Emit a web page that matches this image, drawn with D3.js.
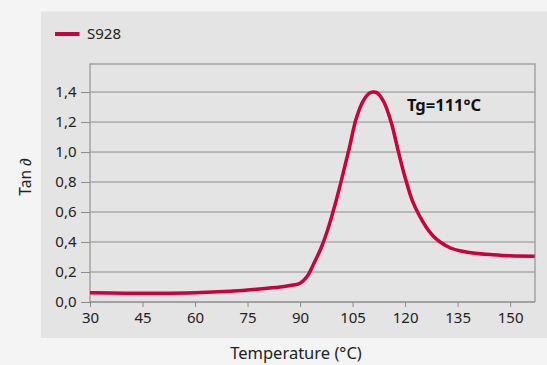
<!DOCTYPE html>
<html>
<head>
<meta charset="utf-8">
<script src="https://cdn.jsdelivr.net/npm/d3@7"></script>
<style>
  body { margin: 0; background: #f3f4f3; }
  svg { display: block; font-family: "Noto Sans", sans-serif; }
</style>
</head>
<body>
<svg id="chart" width="547" height="365"></svg>
<script>
// curve
const temps = [30, 40, 50, 60, 70, 75, 80, 85, 88, 90, 92, 94, 96, 98, 100, 102, 104, 106, 108, 110, 111, 112, 114, 116, 118, 120, 122, 124, 126, 128, 130, 133, 136, 140, 145, 150, 157];
const tanD = [0.062, 0.058, 0.058, 0.062, 0.072, 0.080, 0.090, 0.102, 0.113, 0.125, 0.17, 0.26, 0.36, 0.49, 0.65, 0.83, 1.02, 1.22, 1.34, 1.395, 1.40, 1.395, 1.33, 1.20, 1.01, 0.83, 0.68, 0.58, 0.50, 0.44, 0.40, 0.36, 0.34, 0.325, 0.315, 0.308, 0.305];
const xTicks = [30, 45, 60, 75, 90, 105, 120, 135, 150];
const yTicks = [0, 0.2, 0.4, 0.6, 0.8, 1.0, 1.2, 1.4];
const seriesName = "S928";
const annotation = "Tg=111°C";

const svg = d3.select("#chart");
const red = "#c8003c";
const grid = "#8c8c8c";
const plot = { left: 90, right: 535, top: 64, bottom: 302 };

// grey panel
svg.append("rect")
  .attr("x", 41).attr("y", 11.5)
  .attr("width", 506).attr("height", 326.5)
  .attr("fill", "#e3e4e3");

const x = d3.scaleLinear().domain([30, 157.1]).range([plot.left, plot.right]);
const y = d3.scaleLinear().domain([0, 1.587]).range([plot.bottom, plot.top]);

// horizontal grid
svg.append("g")
  .selectAll("line")
  .data(yTicks.slice(1))
  .enter()
  .append("line")
  .attr("x1", plot.left).attr("x2", plot.right)
  .attr("y1", d => y(d)).attr("y2", d => y(d))
  .attr("stroke", grid)
  .attr("stroke-width", 1);

// frame
svg.append("path")
  .attr("d", `M${plot.left},${plot.bottom}V${plot.top}H${plot.right}V${plot.bottom}`)
  .attr("fill", "none")
  .attr("stroke", "#a2a2a2")
  .attr("stroke-width", 1.5);

const yAxis = svg.append("g")
  .attr("transform", `translate(${plot.left},0)`)
  .call(d3.axisLeft(y).tickValues(yTicks).tickSizeInner(9).tickSizeOuter(0)
    .tickFormat(d => d3.format(".1f")(d).replace(".", ",")));
yAxis.select(".domain").remove();
yAxis.selectAll("line").attr("stroke", grid);
yAxis.selectAll("text")
  .attr("font-size", 15)
  .attr("fill", "#222")
  .attr("font-family", "Noto Sans")
  .attr("dx", "-0.1em");

const xAxis = svg.append("g")
  .attr("transform", `translate(0,${plot.bottom})`)
  .call(d3.axisBottom(x).tickValues(xTicks).tickSizeInner(5).tickSizeOuter(0));
xAxis.select(".domain")
  .attr("d", `M${plot.left},0H${plot.right}`)
  .attr("stroke", grid)
  .attr("stroke-width", 1.5);
xAxis.selectAll("line").attr("stroke", grid);
xAxis.selectAll("text")
  .attr("font-size", 15)
  .attr("fill", "#222")
  .attr("font-family", "Noto Sans")
  .attr("dy", "0.85em");

// the curve
const line = d3.line()
  .x((d, i) => x(temps[i]))
  .y(d => y(d))
  .curve(d3.curveCatmullRom.alpha(0.5));

svg.append("path")
  .datum(tanD)
  .attr("d", line)
  .attr("fill", "none")
  .attr("stroke", red)
  .attr("stroke-width", 3.5)
  .attr("stroke-linejoin", "round");

// legend
svg.append("line")
  .attr("x1", 55).attr("x2", 79.5)
  .attr("y1", 34).attr("y2", 34)
  .attr("stroke", red)
  .attr("stroke-width", 4);
svg.append("text")
  .attr("x", 87).attr("y", 38.5)
  .attr("font-size", 15)
  .attr("fill", "#222")
  .text(seriesName);

svg.append("text")
  .attr("x", 407).attr("y", 110.5)
  .attr("font-size", 16.5)
  .attr("font-weight", "bold")
  .attr("fill", "#111")
  .text(annotation);

// axis titles
svg.append("text")
  .attr("transform", "translate(31,177) rotate(-90)")
  .attr("text-anchor", "middle")
  .attr("font-size", 15.5)
  .attr("fill", "#222")
  .text("Tan ∂");

svg.append("text")
  .attr("x", 296).attr("y", 359)
  .attr("text-anchor", "middle")
  .attr("font-size", 16.5)
  .attr("fill", "#222")
  .text("Temperature (°C)");
</script>
</body>
</html>
